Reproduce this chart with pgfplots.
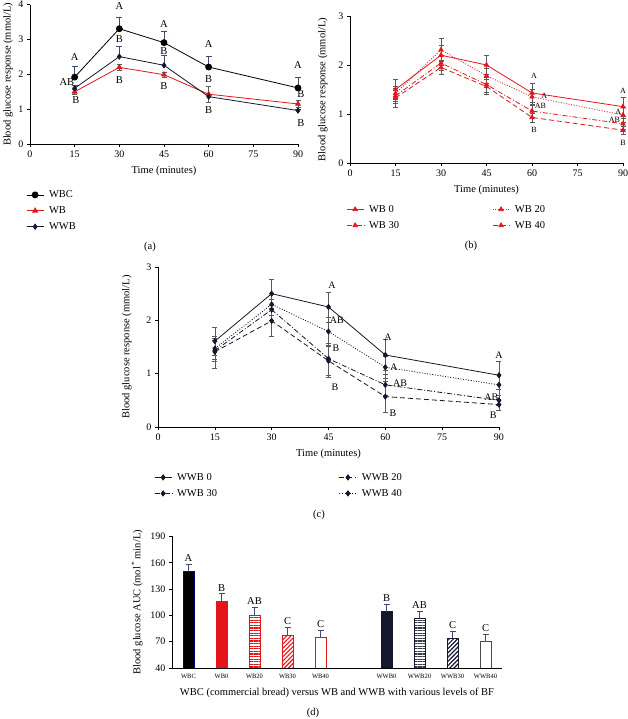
\documentclass[border=0pt]{standalone}
\usepackage{fontspec}
\setmainfont{Liberation Serif}
\usepackage{pgfplots}
\pgfplotsset{compat=1.18}
\usetikzlibrary{patterns.meta}
\definecolor{wbred}{HTML}{E3151B}
\definecolor{navy}{HTML}{14172E}
\definecolor{errblue}{HTML}{3E4A6E}
\definecolor{errgrey}{HTML}{5A5A5A}
\pgfplotsset{
  base/.style={scale only axis, axis lines*=left, axis line style={-, line width=0.6pt},
    tick align=outside, tick style={black, line width=0.6pt}, major tick length=3pt,
    tick label style={font=\fontsize{10}{12}\selectfont},
    label style={font=\fontsize{10.5}{12}\selectfont},
    /pgf/number format/assume math mode=true,
    legend cell align=left,
    legend style={draw=none, fill=none, font=\fontsize{10.5}{12}\selectfont, row sep=3.5pt,
      /tikz/every odd column/.append style={column sep=3pt}}},
  timeaxis/.style={base, clip=false, xmin=0, xmax=90, xtick={0,15,...,90}, ymin=0,
    xlabel={Time (minutes)}, ylabel={Blood glucose response (mmol/L)},
    xlabel style={at={(axis description cs:0.5,0)}, anchor=center, yshift=-27pt}},
  ebplus/.style={error bars/y dir=plus, error bars/y explicit,
    error bars/error bar style={errblue, line width=0.7pt, solid},
    error bars/error mark options={rotate=90, errblue, mark size=3pt, solid}},
  ebboth/.style={error bars/y dir=both, error bars/y explicit,
    error bars/error bar style={errgrey, line width=0.6pt, solid},
    error bars/error mark options={rotate=90, errgrey, mark size=2.5pt, solid}},
  dotl/.style={dash pattern=on 1pt off 1.6pt},
  dashdotl/.style={dash pattern=on 5pt off 2pt on 1pt off 2pt},
  dashl/.style={dash pattern=on 5pt off 3pt},
}
\begin{document}
\begin{tikzpicture}
\useasboundingbox (0,0) rectangle (628pt,719pt);
% ---------------- (a)
\begin{axis}[timeaxis, at={(30pt,575pt)}, anchor=south west, width=268pt, height=139.3pt,
  ymax=4, ytick={0,...,4},
  ylabel style={at={(axis description cs:-0.082,0.5)}, anchor=center},
  legend style={at={(axis description cs:0,0)}, anchor=north west, xshift=-7pt, yshift=-42.5pt}]
\addplot[black, line width=0.8pt, mark=*, mark size=3pt, ebplus] coordinates {
 (15,1.92) +- (0,0.30) (30,3.31) +- (0,0.33) (45,2.91) +- (0,0.32) (60,2.21) +- (0,0.31) (90,1.61) +- (0,0.32)};
\addplot[wbred, line width=0.8pt, mark=triangle*, mark size=2.8pt, ebboth] coordinates {
 (15,1.50) +- (0,0.07) (30,2.20) +- (0,0.08) (45,1.99) +- (0,0.07) (60,1.43) +- (0,0.22) (90,1.15) +- (0,0.10)};
\addplot[navy, line width=0.8pt, mark=diamond*, mark size=2.6pt, ebplus] coordinates {
 (15,1.60) +- (0,0.10) (30,2.51) +- (0,0.29) (45,2.26) +- (0,0.30) (60,1.36) +- (0,0.08) (90,0.96) +- (0,0.05)};
\legend{WBC, WB, WWB}
\begin{scope}[every node/.style={font=\fontsize{10.5}{12}\selectfont, inner sep=0pt}]
\node at (axis cs:15,2.50) {A}; \node at (axis cs:12.4,1.77) {AB}; \node at (axis cs:15.4,1.26) {B};
\node at (axis cs:30,3.97) {A}; \node at (axis cs:30,3.02) {B}; \node at (axis cs:30,1.84) {B};
\node at (axis cs:45,3.45) {A}; \node at (axis cs:45,2.68) {B}; \node at (axis cs:45,1.67) {B};
\node at (axis cs:60,2.87) {A}; \node at (axis cs:60,1.87) {B}; \node at (axis cs:60,0.98) {B};
\node at (axis cs:90,2.27) {A}; \node at (axis cs:91,1.43) {B}; \node at (axis cs:91,0.60) {B};
\end{scope}
\end{axis}
% ---------------- (b)
\begin{axis}[timeaxis, at={(350pt,556pt)}, anchor=south west, width=273pt, height=147pt,
  ymax=3, ytick={0,...,3},
  ylabel style={at={(axis description cs:-0.099,0.5)}, anchor=center},
  legend columns=2,
  legend style={at={(axis description cs:0,0)}, anchor=north west, xshift=-7pt, yshift=-38pt,
    /tikz/column 2/.style={column sep=91pt}}]
\addplot[wbred, line width=0.8pt, mark=triangle*, mark size=2.5pt, ebboth] coordinates {
 (15,1.50) +- (0,0.20) (30,2.20) +- (0,0.20) (45,2.00) +- (0,0.19) (60,1.43) +- (0,0.19) (90,1.15) +- (0,0.20)};
\addplot[wbred, line width=0.8pt, dotl, mark=triangle*, mark size=2.5pt, mark options={solid}, ebboth] coordinates {
 (15,1.42) +- (0,0.15) (30,2.31) +- (0,0.24) (45,1.78) +- (0,0.15) (60,1.35) +- (0,0.15) (90,0.98) +- (0,0.15)};
\addplot[wbred, line width=0.8pt, dashdotl, mark=triangle*, mark size=2.5pt, mark options={solid}, ebboth] coordinates {
 (15,1.37) +- (0,0.15) (30,2.04) +- (0,0.15) (45,1.60) +- (0,0.15) (60,1.06) +- (0,0.12) (90,0.80) +- (0,0.12)};
\addplot[wbred, line width=0.8pt, dashl, mark=triangle*, mark size=2.5pt, mark options={solid}, ebboth] coordinates {
 (15,1.33) +- (0,0.20) (30,1.95) +- (0,0.14) (45,1.56) +- (0,0.16) (60,0.93) +- (0,0.09) (90,0.67) +- (0,0.08)};
\legend{WB 0, WB 20, WB 30, WB 40}
\begin{scope}[every node/.style={font=\fontsize{8}{9}\selectfont, inner sep=0pt}]
\node at (axis cs:60.7,1.78) {A}; \node at (axis cs:64.0,1.38) {A}; \node at (axis cs:62.8,1.17) {AB}; \node at (axis cs:60.7,0.67) {B};
\node at (axis cs:90,1.47) {A}; \node at (axis cs:88.4,1.05) {A}; \node at (axis cs:87.2,0.89) {AB}; \node at (axis cs:90,0.41) {B};
\end{scope}
\end{axis}
% ---------------- (c)
\begin{axis}[timeaxis, at={(158pt,292pt)}, anchor=south west, width=341pt, height=160pt,
  ymax=3, ytick={0,...,3},
  ylabel style={at={(axis description cs:-0.091,0.5)}, anchor=center},
  legend columns=2,
  legend style={at={(axis description cs:0,0)}, anchor=north west, xshift=-7pt, yshift=-42pt,
    /tikz/column 2/.style={column sep=120pt}}]
\addplot[navy, line width=0.8pt, mark=diamond*, mark size=2.6pt, ebboth] coordinates {
 (15,1.61) +- (0,0.27) (30,2.50) +- (0,0.28) (45,2.25) +- (0,0.28) (60,1.35) +- (0,0.29) (90,0.97) +- (0,0.27)};
\addplot[navy, line width=0.8pt, dashl, mark=diamond*, mark size=2.6pt, mark options={solid}, ebboth] coordinates {
 (15,1.41) +- (0,0.30) (30,1.99) +- (0,0.29) (45,1.24) +- (0,0.30) (60,0.57) +- (0,0.29) (90,0.42) +- (0,0.10)};
\addplot[navy, line width=0.8pt, dashdotl, mark=diamond*, mark size=2.6pt, mark options={solid}, ebboth] coordinates {
 (15,1.43) +- (0,0.20) (30,2.20) +- (0,0.20) (45,1.28) +- (0,0.30) (60,0.79) +- (0,0.20) (90,0.50) +- (0,0.10)};
\addplot[navy, line width=0.8pt, dotl, mark=diamond*, mark size=2.6pt, mark options={solid}, ebboth] coordinates {
 (15,1.47) +- (0,0.20) (30,2.30) +- (0,0.20) (45,1.79) +- (0,0.27) (60,1.12) +- (0,0.20) (90,0.79) +- (0,0.20)};
\legend{WWB 0, WWB 20, WWB 30, WWB 40}
\begin{scope}[every node/.style={font=\fontsize{10}{12}\selectfont, inner sep=0pt}]
\node at (axis cs:45.9,2.65) {A}; \node at (axis cs:47.2,2.00) {AB}; \node at (axis cs:47,1.48) {B}; \node at (axis cs:46.7,0.75) {B};
\node at (axis cs:60.7,1.68) {A}; \node at (axis cs:62.3,1.12) {A}; \node at (axis cs:63.9,0.82) {AB}; \node at (axis cs:62,0.26) {B};
\node at (axis cs:90,1.35) {A}; \node at (axis cs:88,0.55) {AB}; \node at (axis cs:88.5,0.22) {B};
\end{scope}
\end{axis}
% ---------------- (d)
\begin{axis}[base, at={(172pt,51pt)}, anchor=south west, width=330pt, height=131.5pt,
  xmin=-0.5, xmax=9.5, ymin=40, ymax=190, ytick={40,70,...,190},
  xtick={0,1,2,3,4,6,7,8,9},
  xticklabels={WBC,WB0,WB20,WB30,WB40,WWB0,WWB20,WWB30,WWB40},
  x tick label style={font=\fontsize{6.5}{8}\selectfont},
  x tick style={draw=none},
  xlabel={WBC (commercial bread) versus WB and WWB with various levels of BF},
  xlabel style={at={(axis description cs:0.5,0)}, anchor=center, yshift=-25pt},
  ylabel={Blood glucose AUC (mol\,\textsuperscript{*}\,min/L)},
  ylabel style={at={(axis description cs:-0.106,0.5)}, anchor=center},
  bar width=11pt,
  every axis plot/.append style={ybar, bar shift=0pt, line width=0.8pt,
    error bars/y dir=plus, error bars/y explicit,
    error bars/error bar style={errblue, line width=0.7pt},
    error bars/error mark options={rotate=90, errblue, mark size=3pt}}]
\addplot[fill=black, draw=blue!50!black] coordinates {(0,150) +- (0,8)};
\addplot[fill=wbred, draw=wbred] coordinates {(1,116) +- (0,9)};
\addplot[pattern={Lines[angle=0,distance=2.6pt,line width=1.3pt]}, pattern color=wbred, draw=wbred] coordinates {(2,100) +- (0,9)};
\addplot[pattern={Lines[angle=45,distance=3pt,line width=1.2pt]}, pattern color=wbred, draw=wbred] coordinates {(3,77) +- (0,9)};
\addplot[fill=white, draw=wbred] coordinates {(4,75) +- (0,8)};
\addplot[fill=navy, draw=navy] coordinates {(6,104) +- (0,9)};
\addplot[pattern={Lines[angle=0,distance=2.6pt,line width=1.3pt]}, pattern color=navy!85, draw=navy] coordinates {(7,97) +- (0,8)};
\addplot[pattern={Lines[angle=45,distance=3pt,line width=1.2pt]}, pattern color=navy, draw=navy] coordinates {(8,74) +- (0,8)};
\addplot[fill=white, draw=black!70] coordinates {(9,70) +- (0,8)};
\begin{scope}[every node/.style={font=\fontsize{10.5}{12}\selectfont, inner sep=0pt, anchor=south}]
\node at (axis cs:0,161) {A}; \node at (axis cs:1,127) {B}; \node at (axis cs:2,112) {AB};
\node at (axis cs:3,89) {C}; \node at (axis cs:4,86) {C};
\node at (axis cs:6,116) {B}; \node at (axis cs:7,108) {AB}; \node at (axis cs:8,85) {C}; \node at (axis cs:9,81) {C};
\end{scope}
\end{axis}
% panel letters
\begin{scope}[every node/.style={font=\fontsize{10.5}{12}\selectfont}]
\node at (150pt,472pt) {(a)};
\node at (471pt,473pt) {(b)};
\node at (319pt,204pt) {(c)};
\node at (313pt,6pt) {(d)};
\end{scope}
\end{tikzpicture}
\end{document}
